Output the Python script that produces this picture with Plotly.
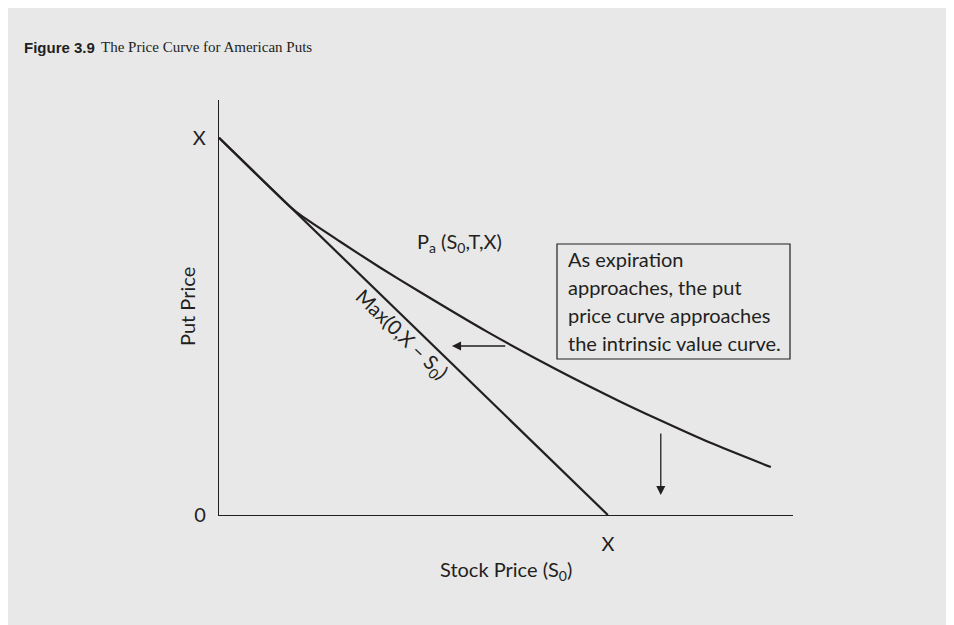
import plotly.graph_objects as go

# datos (unidades: X = 100)
stock_line = [0, 100]
intrinsic_line = [100, 0]

stock_curve = [0, 18.3, 21.6, 31.1, 41.4, 51.7, 68.9, 86.9, 103.1, 112.6, 126.2, 141.9]
put_curve = [100, 81.7, 79.0, 72.5, 65.6, 59.1, 48.6, 38.5, 30.1, 25.5, 19.2, 12.7]

y_ticks = [0, 100]
y_tick_text = ["0", "X"]
x_ticks = [100]
x_tick_text = ["X"]

box_lines = ["As expiration", "approaches, the put",
             "price curve approaches", "the intrinsic value curve."]

OFF = 8                      # margen del body en la pagina
W, H = 954 - OFF, 625 - OFF
L, R, T, B = 219, 793, 100, 515  # area del grafico en pixeles de pagina
BG = "#e8e8e8"
INK = "#231f20"
SANS = "Lato, 'Open Sans', sans-serif"


def px(x):
    return (x - L) / (R - L)


def py(y):
    return (B - y) / (B - T)


fig = go.Figure()
fig.add_trace(go.Scatter(x=stock_line, y=intrinsic_line, mode="lines",
                         line=dict(color=INK, width=2.2), hoverinfo="skip"))
fig.add_trace(go.Scatter(x=stock_curve, y=put_curve, mode="lines",
                         line=dict(color=INK, width=2.2, shape="spline", smoothing=0.6),
                         hoverinfo="skip"))

fig.update_layout(
    width=W, height=H, showlegend=False,
    margin=dict(l=L - OFF, r=W - (R - OFF), t=T - OFF, b=H - (B - OFF), pad=0),
    paper_bgcolor=BG, plot_bgcolor=BG,
    font=dict(family=SANS, size=20, color=INK),
    xaxis=dict(range=[0, 147.6], showgrid=False, zeroline=False, showline=True,
               linecolor=INK, linewidth=1.3, tickvals=x_ticks, ticktext=x_tick_text,
               ticks="", ticklabelstandoff=11, tickfont=dict(size=20)),
    yaxis=dict(range=[0, 110], showgrid=False, zeroline=False, showline=True,
               linecolor=INK, linewidth=1.3, tickvals=y_ticks, ticktext=y_tick_text,
               ticks="", ticklabelstandoff=8, tickfont=dict(size=20)),
)

# titulos de ejes
fig.add_annotation(x=px(506), y=py(570), xref="paper", yref="paper", showarrow=False,
                   xanchor="center", yanchor="middle",
                   text="Stock Price (S<sub>0</sub>)")
fig.add_annotation(x=px(187), y=py(307), xref="paper", yref="paper", showarrow=False,
                   xanchor="center", yanchor="middle",
                   textangle=-90, text="Put Price")

# titulo
fig.add_annotation(x=px(22), y=py(47), xref="paper", yref="paper", xanchor="left",
                   yanchor="middle", showarrow=False,
                   text="<b>Figure 3.9</b>",
                   font=dict(family="'Liberation Sans', Arial, sans-serif", size=15, color=INK))
fig.add_annotation(x=px(99), y=py(47), xref="paper", yref="paper", xanchor="left",
                   yanchor="middle", showarrow=False,
                   text="The Price Curve for American Puts",
                   font=dict(family="'Liberation Serif', 'Times New Roman', serif", size=15, color=INK))

# etiquetas de curvas
fig.add_annotation(x=50.4, y=72.3, xanchor="left", yanchor="middle", showarrow=False,
                   text="P<sub>a</sub> (S<sub>0</sub>,T,X)")
fig.add_annotation(x=46.8, y=47.8, xanchor="center", yanchor="middle", showarrow=False,
                   textangle=44, text="Max(0,X \u2013 S<sub>0</sub>)")

# flechas
fig.add_annotation(x=59.9, y=44.8, ax=74.0, ay=44.8, axref="x", ayref="y",
                   showarrow=True, arrowhead=2, arrowsize=1.4, arrowwidth=1.3,
                   arrowcolor=INK, text="")
fig.add_annotation(x=113.6, y=5.3, ax=113.6, ay=22.0, axref="x", ayref="y",
                   showarrow=True, arrowhead=2, arrowsize=1.4, arrowwidth=1.3,
                   arrowcolor=INK, text="")

# recuadro
fig.add_shape(type="rect", xref="paper", yref="paper",
              x0=px(557), x1=px(790), y0=py(359), y1=py(244),
              line=dict(color=INK, width=1.2), fillcolor=BG)
for i, t in enumerate(box_lines):
    fig.add_annotation(x=px(566), y=py(259 + 28 * i), xref="paper", yref="paper",
                       xanchor="left", yanchor="middle", showarrow=False, text=t)

fig.write_html("out.html")
